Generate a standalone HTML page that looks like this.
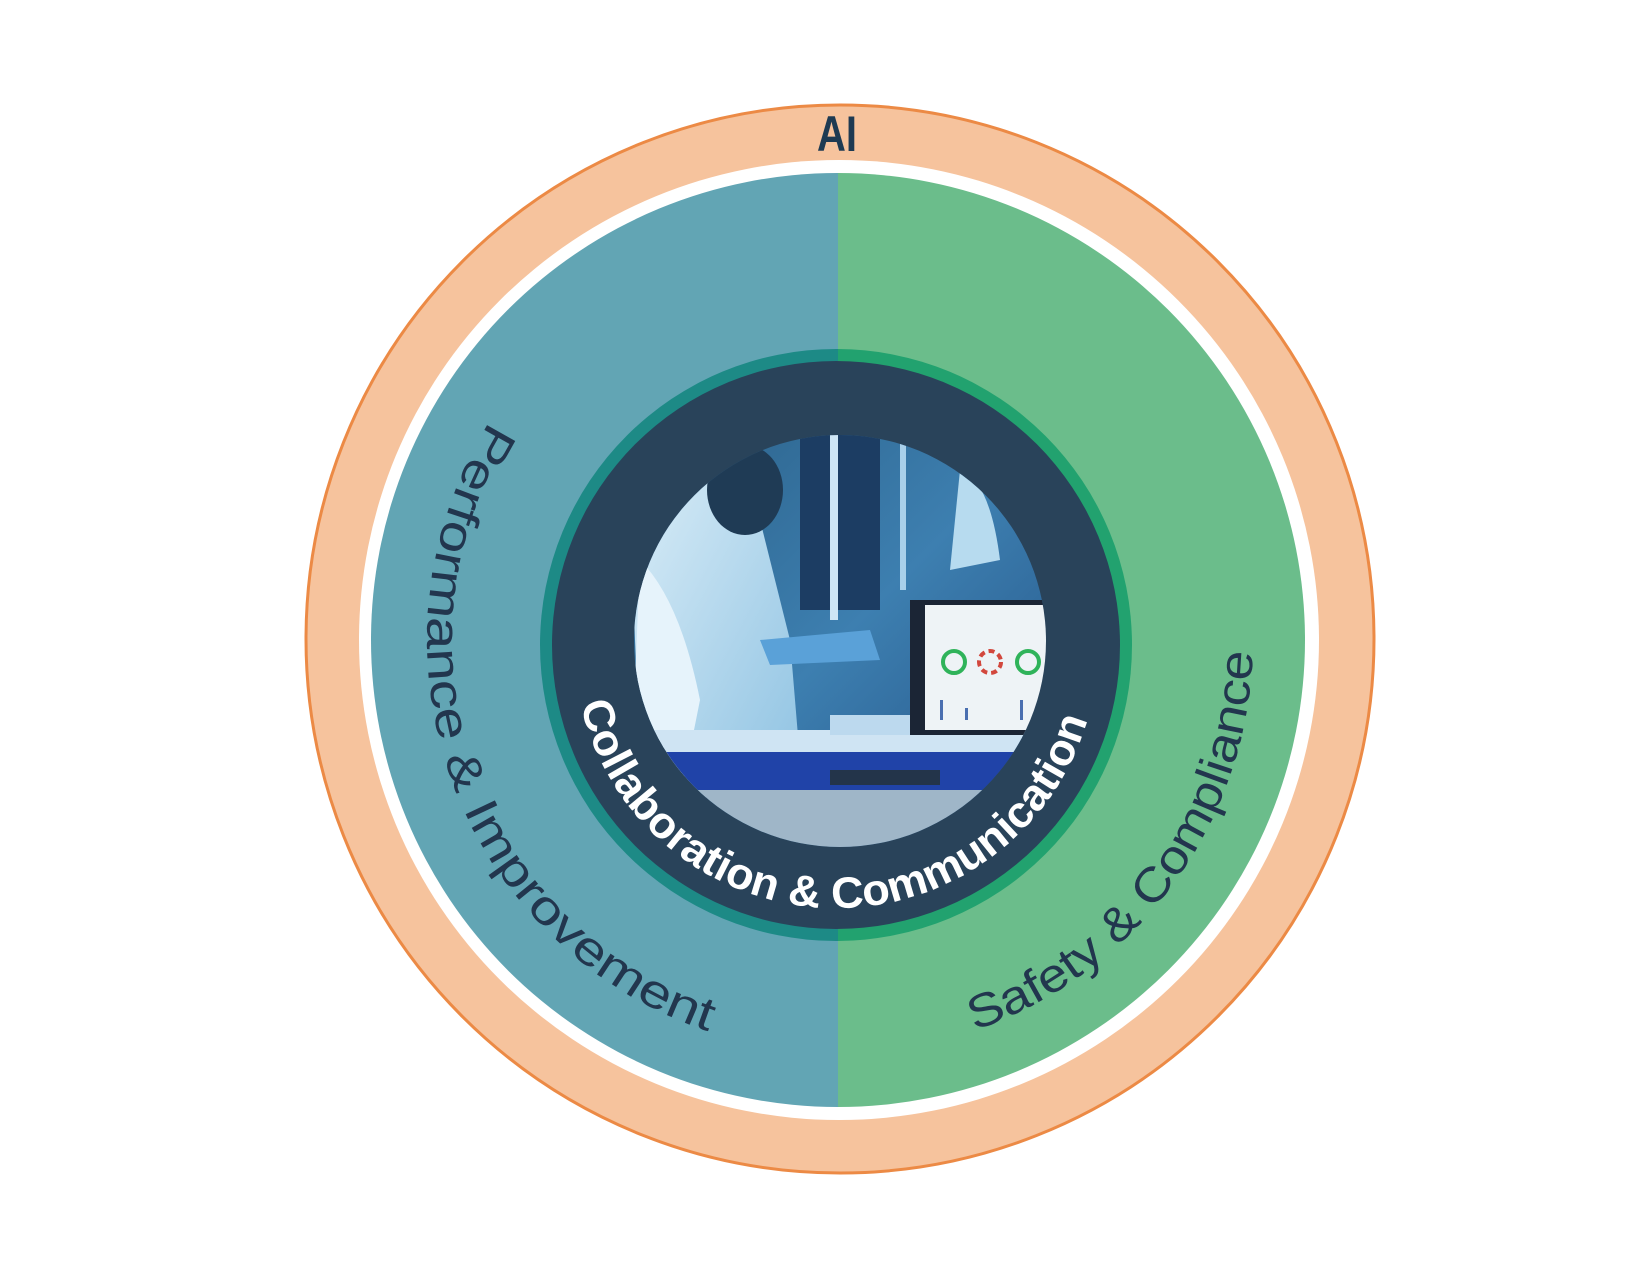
<!DOCTYPE html>
<html><head><meta charset="utf-8"><style>
html,body{margin:0;padding:0;background:#fff;}
svg{display:block;}
</style></head><body>
<svg width="1650" height="1275" viewBox="0 0 1650 1275" xmlns="http://www.w3.org/2000/svg">
<defs>
  <clipPath id="photo"><circle cx="840" cy="641" r="206"/></clipPath>
  <clipPath id="lhalf"><rect x="0" y="0" width="838" height="1275"/></clipPath>
  <clipPath id="rhalf"><rect x="838" y="0" width="812" height="1275"/></clipPath>
  <linearGradient id="bg" x1="0" y1="0" x2="1" y2="1">
    <stop offset="0" stop-color="#2a5f86"/><stop offset="0.5" stop-color="#3d7fb0"/><stop offset="1" stop-color="#1f4c80"/>
  </linearGradient>
  <linearGradient id="coat" x1="0" y1="0" x2="1" y2="1">
    <stop offset="0" stop-color="#d8ecf7"/><stop offset="1" stop-color="#8ec2e2"/>
  </linearGradient>
  <path id="pathLeft" d="M 489.8 421.3 A 413 413 0 0 0 740.1 1040.7"/>
  <path id="pathRight" d="M 974.5 1030.5 A 413 413 0 0 0 1252.7 654.4"/>
  <path id="pathBottom" d="M 580.6 703.9 A 262 262 0 0 0 1089.8 711.5"/>
</defs>

<circle cx="840" cy="639" r="534" fill="#f6c39d" stroke="#ec8a45" stroke-width="3"/>
<circle cx="839" cy="640" r="480" fill="#ffffff"/>
<circle cx="838" cy="640" r="467" fill="#62a5b4" clip-path="url(#lhalf)"/>
<circle cx="838" cy="640" r="467" fill="#6bbd8b" clip-path="url(#rhalf)"/>

<circle cx="836" cy="645" r="296" fill="#1d8a86" clip-path="url(#lhalf)"/>
<circle cx="836" cy="645" r="296" fill="#22a26f" clip-path="url(#rhalf)"/>
<circle cx="836" cy="645" r="284" fill="#29435a"/>

<g clip-path="url(#photo)">
  <rect x="620" y="420" width="440" height="440" fill="url(#bg)"/>
  <rect x="800" y="430" width="80" height="180" fill="#1c3d63"/>
  <rect x="830" y="430" width="8" height="190" fill="#cfe6f5"/>
  <rect x="900" y="430" width="6" height="160" fill="#a9d0ea"/>
  <path d="M960 470 Q990 480 1000 560 L950 570 Z" fill="#b7dbef"/>
  <path d="M660 480 Q720 470 760 520 L790 640 L800 760 L700 800 L640 760 L630 520 Z" fill="url(#coat)"/>
  <path d="M640 560 Q680 600 700 700 L680 800 L630 800 Z" fill="#e6f3fb"/>
  <ellipse cx="745" cy="490" rx="38" ry="45" fill="#1f3b55"/>
  <path d="M760 640 L870 630 L880 660 L770 665 Z" fill="#5aa1d8"/>
  <rect x="640" y="750" width="420" height="40" fill="#2043a8"/>
  <rect x="640" y="790" width="420" height="80" fill="#9fb6c8"/>
  <rect x="640" y="730" width="420" height="22" fill="#cfe4f3"/>
  <rect x="830" y="715" width="120" height="20" fill="#bcd9ee"/>
  <rect x="910" y="600" width="140" height="135" fill="#1b2535"/>
  <rect x="925" y="605" width="125" height="125" fill="#eef3f6"/>
  <circle cx="954" cy="662" r="11" fill="none" stroke="#2fb35a" stroke-width="4"/>
  <circle cx="990" cy="662" r="11" fill="none" stroke="#d2473d" stroke-width="4" stroke-dasharray="6 4"/>
  <circle cx="1028" cy="662" r="11" fill="none" stroke="#2fb35a" stroke-width="4"/>
  <rect x="940" y="700" width="3" height="20" fill="#4a6fb0"/>
  <rect x="965" y="708" width="3" height="12" fill="#4a6fb0"/>
  <rect x="1020" y="700" width="3" height="20" fill="#4a6fb0"/>
  <rect x="830" y="770" width="110" height="15" fill="#23344a"/>
</g>

<text x="837" y="151" text-anchor="middle" font-family="Liberation Sans, sans-serif" font-size="50" font-weight="bold" fill="#1e3a52" transform="translate(837 0) scale(0.8 1) translate(-837 0)">AI</text>

<text font-family="Liberation Sans, sans-serif" font-size="47" fill="#22364e">
  <textPath href="#pathLeft" textLength="745" lengthAdjust="spacingAndGlyphs">Performance &amp; Improvement</textPath>
</text>
<text font-family="Liberation Sans, sans-serif" font-size="47" fill="#22364e">
  <textPath href="#pathRight" textLength="500" lengthAdjust="spacingAndGlyphs">Safety &amp; Compliance</textPath>
</text>
<text font-family="Liberation Sans, sans-serif" font-size="44" font-weight="bold" fill="#ffffff">
  <textPath href="#pathBottom" textLength="690" lengthAdjust="spacingAndGlyphs">Collaboration &amp; Communication</textPath>
</text>
</svg>
</body></html>
